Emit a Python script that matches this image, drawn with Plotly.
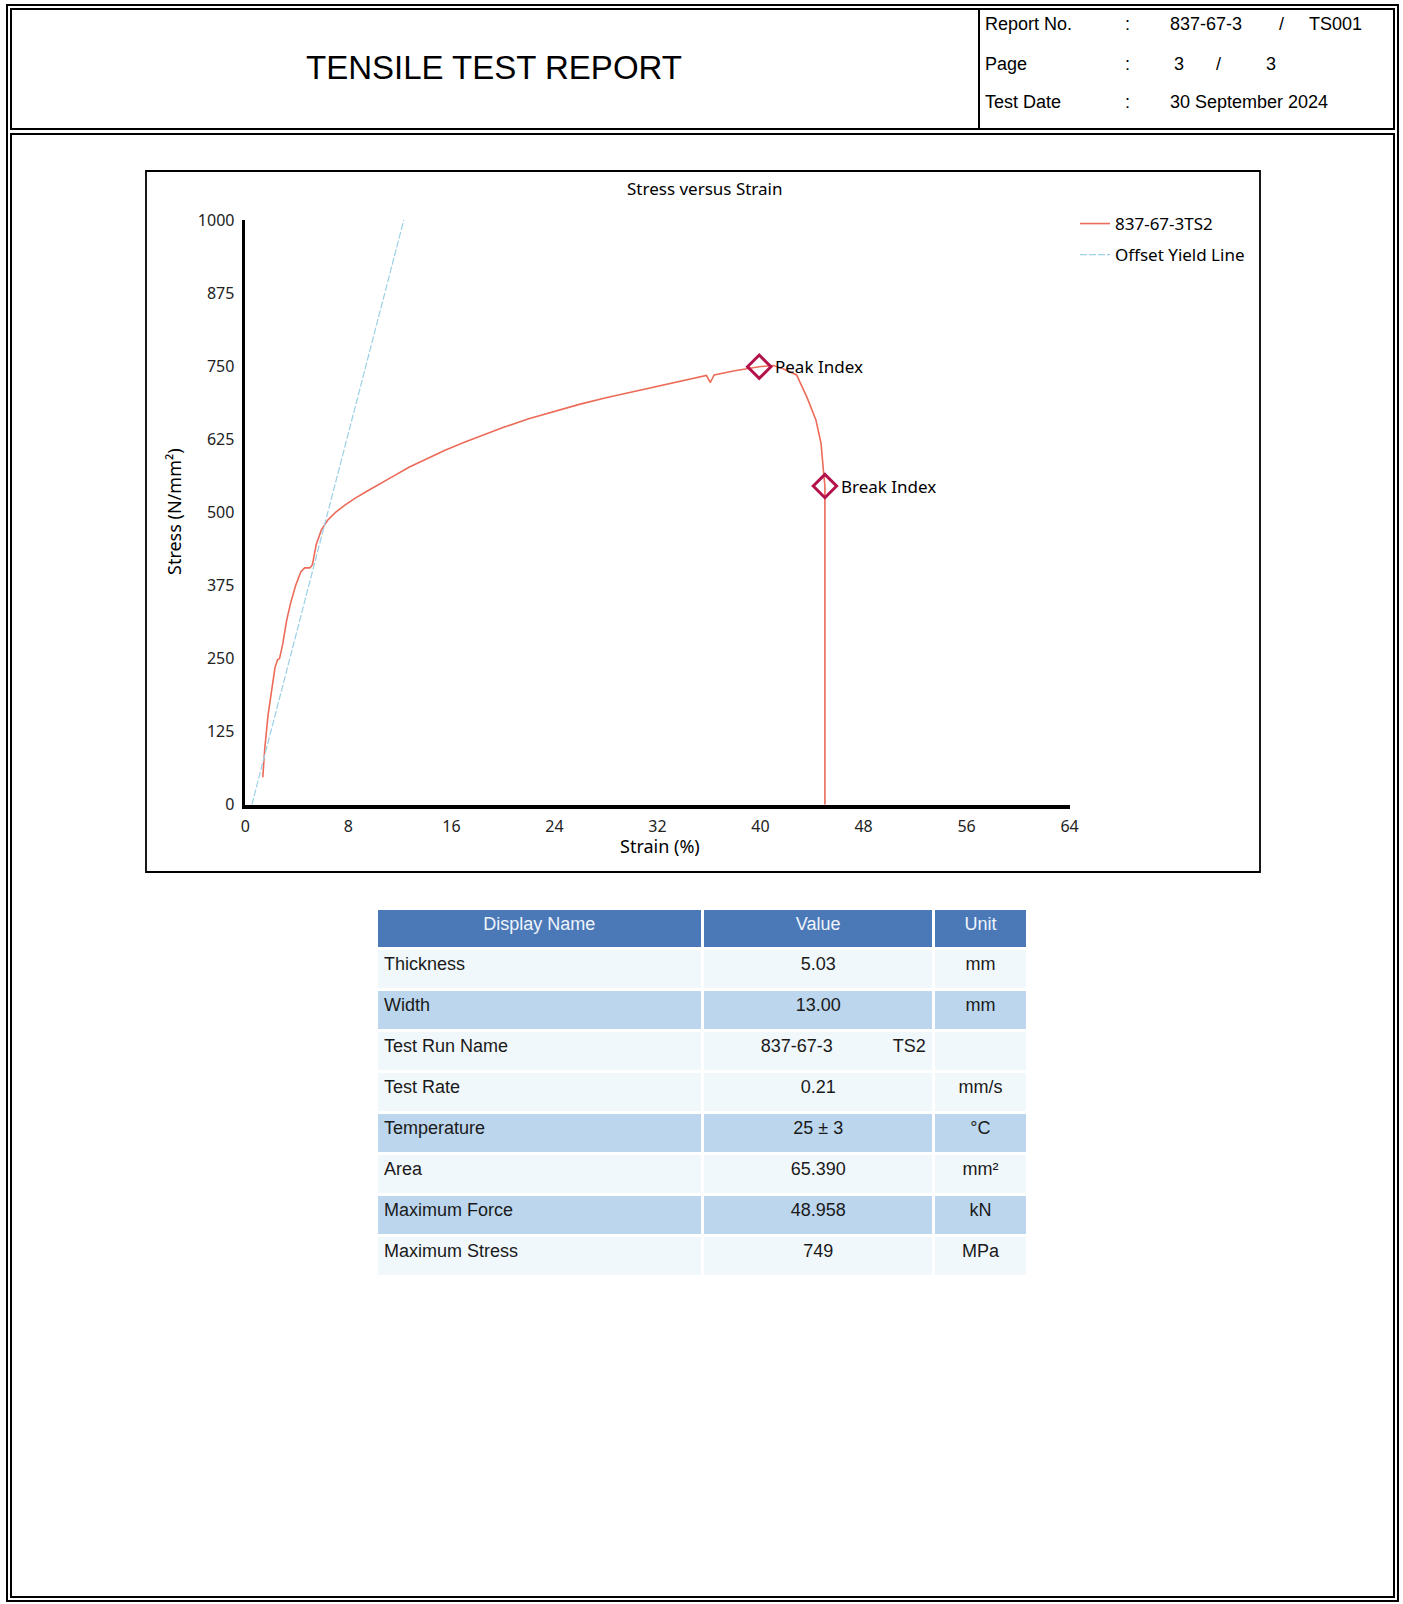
import plotly.graph_objects as go

W, H = 1403, 1604

# ---------------- data ----------------
strain = [1.35, 1.5, 1.75, 2.0, 2.3, 2.5, 2.65, 2.9, 3.2, 3.5, 3.9, 4.3, 4.6, 5.0, 5.2,
          5.5, 5.9, 6.4, 7.0, 7.7, 8.5, 9.5, 10.5, 11.5, 12.7, 14.0, 15.5, 17.0, 18.5,
          20.0, 22.0, 24.0, 26.0, 28.0, 30.0, 32.0, 34.0, 35.8, 36.1, 36.4, 38.0, 39.9,
          41.0, 41.7, 42.8, 43.6, 44.3, 44.7, 44.9, 45.0, 45.0]
stress = [47, 95, 152, 190, 235, 248, 250, 275, 315, 344, 375, 398, 405, 405, 410,
          445, 470, 487, 500, 512, 524, 537, 550, 562, 577, 591, 606, 620, 633,
          645, 660, 673, 685, 696, 706, 716, 726, 734, 722, 735, 742, 749,
          751, 746, 735, 697, 658, 618, 567, 545, 0]

yield_strain = [0.5, 12.3]
yield_stress = [0, 1000]

peak_point = (39.9, 749)
break_point = (45.0, 545)

x_ticks = [0, 8, 16, 24, 32, 40, 48, 56, 64]
y_ticks = [0, 125, 250, 375, 500, 625, 750, 875, 1000]

table_header = ["Display Name", "Value", "Unit"]
table_names = ["Thickness", "Width", "Test Run Name", "Test Rate", "Temperature",
               "Area", "Maximum Force", "Maximum Stress"]
table_values = ["5.03", "13.00",
                "\u00a0" * 10 + "837-67-3" + "\u00a0" * 12 + "TS2",
                "0.21", "25 ± 3", "65.390", "48.958", "749"]
table_units = ["mm", "mm", "", "mm/s", "°C", "mm²", "kN", "MPa"]
row_shaded = [False, True, False, False, True, False, True, False]

report_no = "837-67-3"
report_suffix = "TS001"
page_no = "3"
page_total = "3"
test_date = "30 September 2024"

# ---------------- styles ----------------
RED = "#ec6b59"
BLUE = "#9cd0e6"
MARK = "#b3124a"
HDR = "#4b79b7"
SHADE = "#bcd6ee"
LIGHT = "#f1f8fc"
CHART_FONT = "Noto Sans, Open Sans, sans-serif"
ARIAL = "Liberation Sans, Arial, sans-serif"


def px(x):
    return x / W


def py(y):
    return 1 - y / H


fig = go.Figure()

fig.add_trace(go.Scatter(x=strain, y=stress, mode="lines", name="837-67-3TS2",
                         legendgroup="a",
                         line=dict(color=RED, width=1.6)))
fig.add_trace(go.Scatter(x=yield_strain, y=yield_stress, mode="lines",
                         name="Offset Yield Line", legendgroup="b",
                         line=dict(color=BLUE, width=1.2, dash="7px,2px")))
fig.add_trace(go.Scatter(x=[peak_point[0], break_point[0]],
                         y=[peak_point[1], break_point[1]],
                         mode="markers", showlegend=False,
                         marker=dict(symbol="diamond-open", size=18, color=MARK,
                                     line=dict(width=3, color=MARK))))

fills = [SHADE if s else LIGHT for s in row_shaded]
fig.add_trace(go.Table(
    domain=dict(x=[px(376), px(1027)], y=[py(1276), py(908)]),
    columnwidth=[326, 231, 93],
    header=dict(values=table_header, fill_color=HDR, align="center", height=40,
                font=dict(family=ARIAL, size=18, color="#eef4fb"),
                line=dict(color="white", width=3)),
    cells=dict(values=[table_names, table_values, table_units],
               fill_color=[fills, fills, fills],
               align=["left", "center", "center"], height=41,
               font=dict(family=ARIAL, size=18, color="#1a1a1a"),
               line=dict(color="white", width=3)),
))

# ---------------- page frame shapes ----------------
shapes = []


def rect(x0, y0, x1, y1, w=2):
    shapes.append(dict(type="rect", xref="paper", yref="paper",
                       x0=px(x0), x1=px(x1), y0=py(y0), y1=py(y1),
                       line=dict(color="black", width=w)))


def line(x0, y0, x1, y1, w=2):
    shapes.append(dict(type="line", xref="paper", yref="paper",
                       x0=px(x0), x1=px(x1), y0=py(y0), y1=py(y1),
                       line=dict(color="black", width=w)))


rect(7, 5, 1398, 1601, 2)
rect(11, 9, 1394, 129, 2)
rect(11, 134, 1394, 1597, 2)
line(979, 9, 979, 129, 2)
rect(146, 171, 1260, 872, 1.8)

# ---------------- annotations ----------------
ann = []


def text(x, y, s, size, family, xanchor="left", color="black", angle=0):
    ann.append(dict(x=px(x), y=py(y), xref="paper", yref="paper", text=s,
                    showarrow=False, xanchor=xanchor, yanchor="middle",
                    textangle=angle, font=dict(size=size, family=family, color=color)))


text(494, 67, "TENSILE TEST REPORT", 33, ARIAL, "center")
text(983, 24, "Report No.", 18, ARIAL)
text(983, 64, "Page", 18, ARIAL)
text(983, 102, "Test Date", 18, ARIAL)
for yy in (24, 64, 102):
    text(1123, yy, ":", 18, ARIAL)
text(1168, 24, report_no, 18, ARIAL)
text(1277, 24, "/", 18, ARIAL)
text(1307, 24, report_suffix, 18, ARIAL)
text(1172, 64, page_no, 18, ARIAL)
text(1214, 64, "/", 18, ARIAL)
text(1264, 64, page_total, 18, ARIAL)
text(1168, 102, test_date, 18, ARIAL)

text(704, 188, "Stress versus Strain", 17, CHART_FONT, "center")
text(174, 512, "Stress (N/mm²)", 18, CHART_FONT, "center", angle=-90)
text(660, 846, "Strain (%)", 18, CHART_FONT, "center")

ann.append(dict(x=peak_point[0], y=peak_point[1], xref="x", yref="y", text="Peak Index",
                showarrow=False, xanchor="left", yanchor="middle", xshift=14,
                font=dict(size=17, family=CHART_FONT, color="black")))
ann.append(dict(x=break_point[0], y=break_point[1], xref="x", yref="y", text="Break Index",
                showarrow=False, xanchor="left", yanchor="middle", xshift=14,
                font=dict(size=17, family=CHART_FONT, color="black")))

fig.update_layout(
    width=W, height=H,
    margin=dict(l=0, r=0, t=0, b=0, pad=0, autoexpand=False),
    paper_bgcolor="white", plot_bgcolor="white",
    shapes=shapes, annotations=ann,
    xaxis=dict(domain=[px(245.4), px(1069.6)], range=[0, 64], tickvals=x_ticks,
               showline=True, linecolor="black", linewidth=3.5, showgrid=False,
               zeroline=False, ticks="", fixedrange=True, ticklabelstandoff=4,
               automargin=False,
               tickfont=dict(size=16, family=CHART_FONT, color="#222")),
    yaxis=dict(domain=[py(804.8), py(219.9)], range=[0, 1000], tickvals=y_ticks,
               showline=True, linecolor="black", linewidth=2.5, showgrid=False,
               zeroline=False, ticks="", fixedrange=True, ticklabelstandoff=5,
               automargin=False,
               tickfont=dict(size=16, family=CHART_FONT, color="#222")),
    legend=dict(x=px(1075), y=py(206), xanchor="left", yanchor="top",
                font=dict(size=17, family=CHART_FONT, color="black"),
                bgcolor="rgba(0,0,0,0)", itemwidth=30, tracegroupgap=6),
    showlegend=True,
)

fig.write_html(
    "out.html",
    config={"displayModeBar": False},
    post_script="document.body.style.margin='0';"
                "document.body.style.overflow='hidden';"
                "document.documentElement.style.overflow='hidden';",
)
